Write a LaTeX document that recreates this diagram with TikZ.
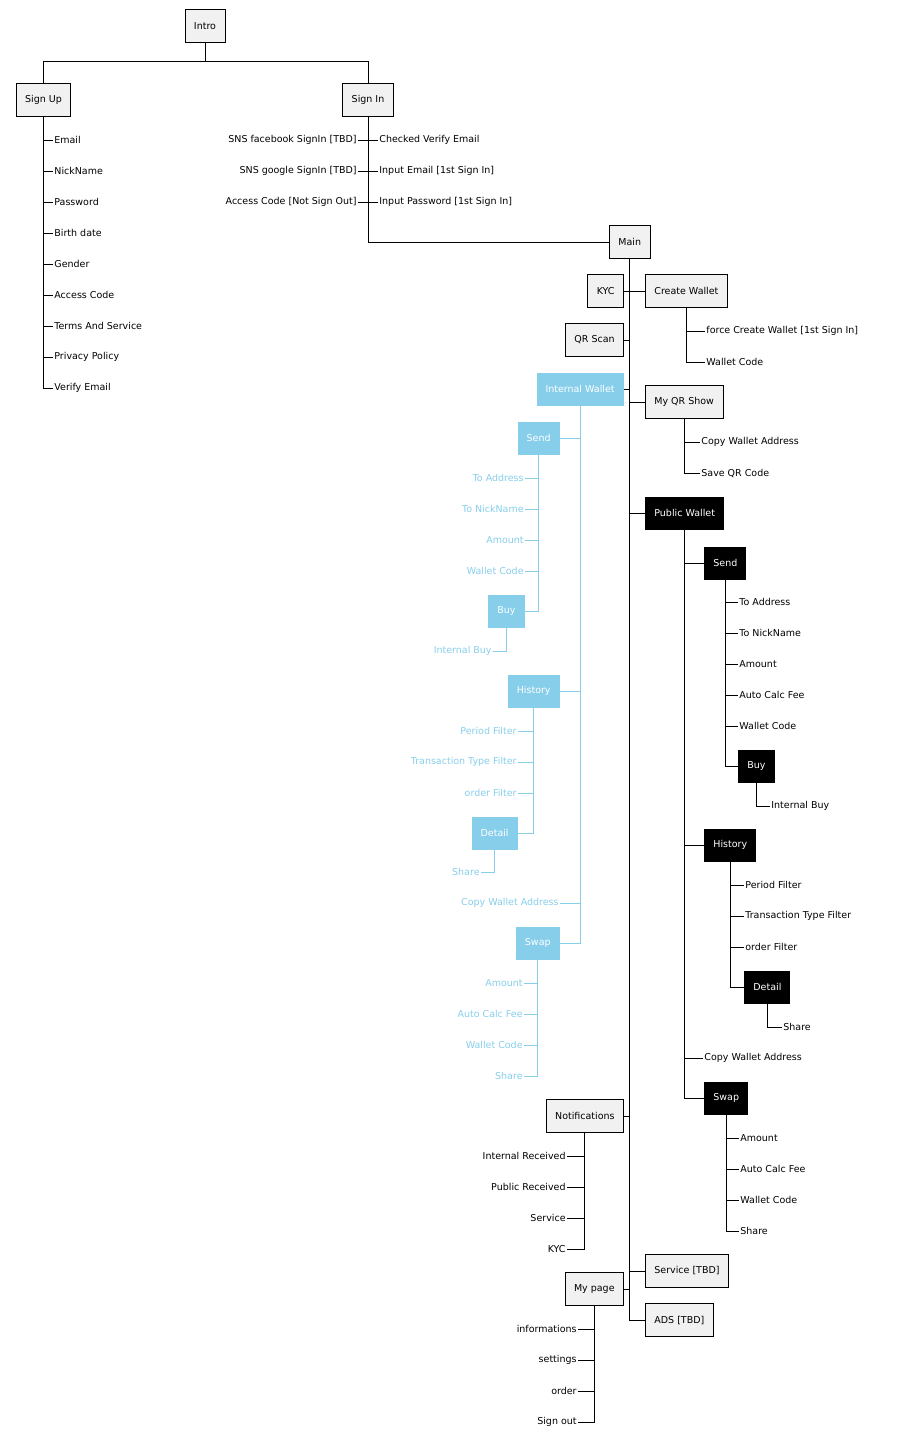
\documentclass[tikz,border=0pt]{standalone}
\usepackage{fontspec}
\setmainfont{DejaVu Sans}
\definecolor{boxgray}{HTML}{F1F1F1}
\definecolor{skyb}{HTML}{87CEEB}

\begin{document}
\begin{tikzpicture}[x=1pt,y=-1pt,font=\fontsize{9.5}{11}\selectfont,
  box/.style={draw,thick,fill=boxgray,minimum height=33,inner xsep=9},
  bbox/.style={fill=skyb,text=white,minimum height=33,inner xsep=9},
  kbox/.style={fill=black,text=white,minimum height=33,inner xsep=9},
  leaf/.style={inner sep=1},
  bleaf/.style={inner sep=1,text=skyb},
  every path/.style={thick}]
\useasboundingbox (0,0) rectangle (912,1441);
% top
\node[box] (intro) at (205,26) {Intro};
\node[box] (signup) at (43.5,100) {Sign Up};
\node[box] (signin) at (368,100) {Sign In};
\draw (intro.south) -- (intro.south |- 0,61) -| (signup.north);
\draw (intro.south |- 0,61) -| (signin.north);
% sign up
\foreach \t/\y [count=\i] in {Email/140,NickName/171,Password/202,Birth date/233,Gender/264,Access Code/295,Terms And Service/326,Privacy Policy/357,Verify Email/388}{
  \node[leaf,anchor=west] (su\i) at (53,\y) {\t};
  \draw (signup.south) |- (su\i.west);
}
% sign in
\foreach \t/\y [count=\i] in {Checked Verify Email/140,Input Email [1st Sign In]/171,Input Password [1st Sign In]/202}{
  \node[leaf,anchor=west] (sir\i) at (378,\y) {\t};
  \draw (signin.south) |- (sir\i.west);
}
\foreach \t/\y [count=\i] in {SNS facebook SignIn [TBD]/140,SNS google SignIn [TBD]/171,Access Code [Not Sign Out]/202}{
  \node[leaf,anchor=east] (sil\i) at (358,\y) {\t};
  \draw (signin.south) |- (sil\i.east);
}
% main
\node[box,anchor=west] (main) at (609,242) {Main};
\draw (signin.south) |- (main.west);
\node[box,anchor=west] (create) at (645,291) {Create Wallet};
\node[box,anchor=east] (kyc) at (624,291) {KYC};
\node[box,anchor=east] (qr) at (624,340) {QR Scan};
\node[bbox,anchor=east] (iw) at (624,389) {Internal Wallet};
\node[box,anchor=west] (myqr) at (645,402) {My QR Show};
\node[kbox,anchor=west] (pw) at (645,513) {Public Wallet};
\node[box,anchor=east] (noti) at (624,1116) {Notifications};
\node[box,anchor=west] (service) at (645,1271) {Service [TBD]};
\node[box,anchor=east] (mypage) at (624,1289) {My page};
\node[box,anchor=west] (ads) at (645,1320) {ADS [TBD]};
\foreach \n in {create,myqr,pw,service,ads} \draw (main.south) |- (\n.west);
\foreach \n in {kyc,qr,iw,noti,mypage} \draw (main.south) |- (\n.east);
% create wallet, my qr show
\node[leaf,anchor=west] (cw1) at (705,331) {force Create Wallet [1st Sign In]};
\node[leaf,anchor=west] (cw2) at (705,362) {Wallet Code};
\node[leaf,anchor=west] (mq1) at (700,442) {Copy Wallet Address};
\node[leaf,anchor=west] (mq2) at (700,473) {Save QR Code};
\foreach \n in {cw1,cw2} \draw (create.south) |- (\n.west);
\foreach \n in {mq1,mq2} \draw (myqr.south) |- (\n.west);
% public wallet
\node[kbox,anchor=west] (psend) at (704,563) {Send};
\node[kbox,anchor=west] (phist) at (704,845) {History};
\node[leaf,anchor=west] (pcopy) at (703,1058) {Copy Wallet Address};
\node[kbox,anchor=west] (pswap) at (704,1098) {Swap};
\foreach \n in {psend,phist,pcopy,pswap} \draw (pw.south) |- (\n.west);
\foreach \t/\y [count=\i] in {To Address/602,To NickName/633,Amount/664,Auto Calc Fee/695,Wallet Code/726}{
  \node[leaf,anchor=west] (ps\i) at (738,\y) {\t};
  \draw (psend.south) |- (ps\i.west);
}
\node[kbox,anchor=west] (pbuy) at (738,766) {Buy};
\draw (psend.south) |- (pbuy.west);
\node[leaf,anchor=west] (pbuy1) at (770,806) {Internal Buy};
\draw (pbuy.south) |- (pbuy1.west);
\foreach \t/\y [count=\i] in {Period Filter/885,Transaction Type Filter/916,order Filter/947}{
  \node[leaf,anchor=west] (ph\i) at (744,\y) {\t};
  \draw (phist.south) |- (ph\i.west);
}
\node[kbox,anchor=west] (pdet) at (744,987) {Detail};
\draw (phist.south) |- (pdet.west);
\node[leaf,anchor=west] (pdet1) at (782,1027) {Share};
\draw (pdet.south) |- (pdet1.west);
\foreach \t/\y [count=\i] in {Amount/1138,Auto Calc Fee/1169,Wallet Code/1200,Share/1231}{
  \node[leaf,anchor=west] (pw\i) at (739,\y) {\t};
  \draw (pswap.south) |- (pw\i.west);
}
% internal wallet
\begin{scope}[draw=skyb]
\node[bbox,anchor=east] (isend) at (560,438) {Send};
\node[bbox,anchor=east] (ihist) at (560,691) {History};
\node[bleaf,anchor=east] (icopy) at (560,903) {Copy Wallet Address};
\node[bbox,anchor=east] (iswap) at (560,943) {Swap};
\foreach \n in {isend,ihist,icopy,iswap} \draw (iw.south) |- (\n.east);
\foreach \t/\y [count=\i] in {To Address/478,To NickName/509,Amount/540,Wallet Code/571}{
  \node[bleaf,anchor=east] (is\i) at (525,\y) {\t};
  \draw (isend.south) |- (is\i.east);
}
\node[bbox,anchor=east] (ibuy) at (525,611) {Buy};
\draw (isend.south) |- (ibuy.east);
\node[bleaf,anchor=east] (ibuy1) at (493,651) {Internal Buy};
\draw (ibuy.south) |- (ibuy1.east);
\foreach \t/\y [count=\i] in {Period Filter/731,Transaction Type Filter/762,order Filter/793}{
  \node[bleaf,anchor=east] (ih\i) at (518,\y) {\t};
  \draw (ihist.south) |- (ih\i.east);
}
\node[bbox,anchor=east] (idet) at (518,833) {Detail};
\draw (ihist.south) |- (idet.east);
\node[bleaf,anchor=east] (idet1) at (481,872) {Share};
\draw (idet.south) |- (idet1.east);
\foreach \t/\y [count=\i] in {Amount/983,Auto Calc Fee/1014,Wallet Code/1045,Share/1076}{
  \node[bleaf,anchor=east] (iw\i) at (524,\y) {\t};
  \draw (iswap.south) |- (iw\i.east);
}
\end{scope}
% notifications, my page
\foreach \t/\y [count=\i] in {Internal Received/1156,Public Received/1187,Service/1218,KYC/1249}{
  \node[leaf,anchor=east] (no\i) at (567,\y) {\t};
  \draw (noti.south) |- (no\i.east);
}
\foreach \t/\y [count=\i] in {informations/1329,settings/1360,order/1391,Sign out/1422}{
  \node[leaf,anchor=east] (mp\i) at (578,\y) {\t};
  \draw (mypage.south) |- (mp\i.east);
}
\end{tikzpicture}
\end{document}
